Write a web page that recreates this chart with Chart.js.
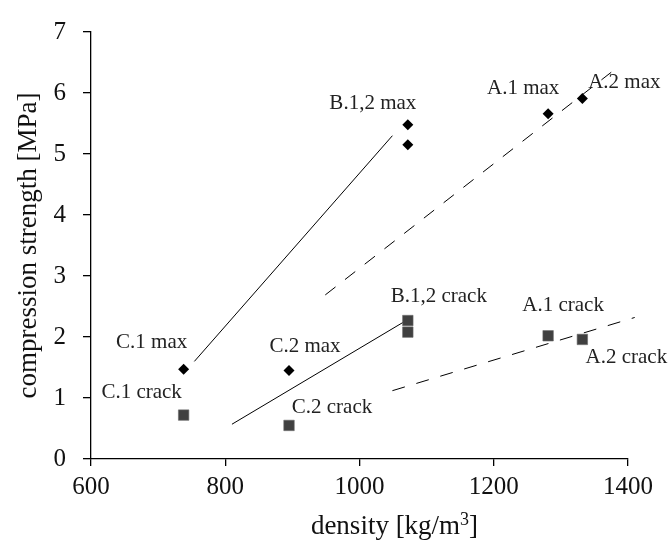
<!DOCTYPE html>
<html>
<head>
<meta charset="utf-8">
<script src="https://cdn.jsdelivr.net/npm/chart.js@4/dist/chart.umd.min.js"></script>
<style>
  html, body { margin: 0; padding: 0; background: #fff; }
  #wrap { width: 669px; height: 547px; }
</style>
</head>
<body>
<div id="wrap"><canvas id="chart" width="669" height="547"></canvas></div>
<script>
// Specimens, in order C.1, C.2, B.1, B.2, A.1, A.2
const density = [738, 895, 1072, 1072, 1281, 1332];          // kg/m3
const maxStrength = [1.47, 1.45, 5.48, 5.15, 5.66, 5.91];    // MPa
const crackStrength = [0.72, 0.55, 2.27, 2.08, 2.02, 1.96];  // MPa
const maxLabels = ['C.1 max', 'C.2 max', 'B.1,2 max', '', 'A.1 max', 'A.2 max'];
const crackLabels = ['C.1 crack', 'C.2 crack', 'B.1,2 crack', '', 'A.1 crack', 'A.2 crack'];

// Trend lines (end points): C/B groups solid, A group dashed
const trendMaxCBx = [754, 1049];
const trendMaxCBy = [1.60, 5.30];
const trendCrackCBx = [810, 1068];
const trendCrackCBy = [0.57, 2.26];
const trendMaxAx = [949, 1375];
const trendMaxAy = [2.69, 6.34];
const trendCrackAx = [1049, 1410];
const trendCrackAy = [1.12, 2.32];

// Axis ticks
const xTicks = [600, 800, 1000, 1200, 1400];
const yTicks = [0, 1, 2, 3, 4, 5, 6, 7];

// Axis titles
const xTitleMain = 'density [kg/m';
const xTitleSup = '3';
const xTitleEnd = ']';
const yTitle = 'compression strength [MPa]';

// Label placement relative to each marker (pixels)
const maxLabelOffset = [[-32, -27], [16, -24], [-35, -21], [0, 0], [-25, -25], [42, -16]];
const crackLabelOffset = [[-42, -23], [43, -18], [31, -24], [0, 0], [15, -30], [44, 18]];

const SERIF = '"Liberation Serif", "Times New Roman", serif';

const toPoints = (xs, ys) => xs.map((x, i) => ({ x: x, y: ys[i] }));

const trendStyle = (dash) => ({
  showLine: true,
  pointRadius: 0,
  pointHoverRadius: 0,
  borderColor: '#000',
  borderWidth: 1,
  borderDash: dash,
  fill: false,
  clip: false
});

// Text next to each marker
const pointLabels = {
  id: 'pointLabels',
  afterDatasetsDraw(chart) {
    const ctx = chart.ctx;
    ctx.save();
    ctx.font = '21px ' + SERIF;
    ctx.fillStyle = '#222';
    ctx.textAlign = 'center';
    ctx.textBaseline = 'middle';
    chart.data.datasets.forEach((ds, di) => {
      if (!ds.labels) return;
      const meta = chart.getDatasetMeta(di);
      meta.data.forEach((pt, i) => {
        const txt = ds.labels[i];
        if (!txt) return;
        const off = ds.labelOffsets[i];
        ctx.fillText(txt, pt.x + off[0], pt.y + off[1]);
      });
    });
    ctx.restore();
  }
};

// x-axis title with a raised exponent
const densityTitle = {
  id: 'densityTitle',
  afterDraw(chart) {
    const ctx = chart.ctx;
    const area = chart.chartArea;
    const big = '27px ' + SERIF;
    const small = '18px ' + SERIF;
    ctx.save();
    ctx.fillStyle = '#111';
    ctx.textBaseline = 'alphabetic';
    ctx.textAlign = 'left';
    ctx.font = big;
    const w1 = ctx.measureText(xTitleMain).width;
    const w3 = ctx.measureText(xTitleEnd).width;
    ctx.font = small;
    const w2 = ctx.measureText(xTitleSup).width;
    const total = w1 + w2 + w3;
    const cx = (area.left + area.right) / 2 + 35;
    const baseline = area.bottom + 75;
    let x = cx - total / 2;
    ctx.font = big;
    ctx.fillText(xTitleMain, x, baseline);
    x += w1;
    ctx.font = small;
    ctx.fillText(xTitleSup, x, baseline - 9);
    x += w2;
    ctx.font = big;
    ctx.fillText(xTitleEnd, x, baseline);
    ctx.restore();
  }
};

new Chart(document.getElementById('chart'), {
  type: 'scatter',
  data: {
    datasets: [
      {
        label: 'max',
        data: toPoints(density, maxStrength),
        labels: maxLabels,
        labelOffsets: maxLabelOffset,
        pointStyle: 'rectRot',
        pointRadius: 5.5,
        pointBackgroundColor: '#000',
        pointBorderColor: '#000',
        pointBorderWidth: 0
      },
      {
        label: 'crack',
        data: toPoints(density, crackStrength),
        labels: crackLabels,
        labelOffsets: crackLabelOffset,
        pointStyle: 'rect',
        pointRadius: 7.4,
        pointBackgroundColor: '#404040',
        pointBorderColor: '#6a6a6a',
        pointBorderWidth: 0.6
      },
      Object.assign({ label: 'max C/B', data: toPoints(trendMaxCBx, trendMaxCBy) }, trendStyle([])),
      Object.assign({ label: 'crack C/B', data: toPoints(trendCrackCBx, trendCrackCBy) }, trendStyle([])),
      Object.assign({ label: 'max A', data: toPoints(trendMaxAx, trendMaxAy) }, trendStyle([13, 12])),
      Object.assign({ label: 'crack A', data: toPoints(trendCrackAx, trendCrackAy) }, trendStyle([13, 12]))
    ]
  },
  options: {
    responsive: false,
    animation: false,
    devicePixelRatio: 1,
    layout: { padding: { top: 20, right: 41, left: 0, bottom: 0 } },
    plugins: {
      legend: { display: false },
      tooltip: { enabled: false }
    },
    scales: {
      x: {
        type: 'linear',
        min: xTicks[0],
        max: xTicks[xTicks.length - 1],
        afterBuildTicks: (s) => { s.ticks = xTicks.map(v => ({ value: v })); },
        afterFit: (s) => { s.height = 88; },
        ticks: {
          font: { family: SERIF, size: 25 },
          color: '#111',
          padding: 6,
          callback: (v) => String(v)
        },
        grid: {
          drawOnChartArea: false,
          drawTicks: true,
          tickLength: 7,
          color: '#000',
          lineWidth: 1.3
        },
        border: { display: true, color: '#000', width: 1.3 },
        title: { display: false }
      },
      y: {
        type: 'linear',
        min: yTicks[0],
        max: yTicks[yTicks.length - 1],
        afterBuildTicks: (s) => { s.ticks = yTicks.map(v => ({ value: v })); },
        afterFit: (s) => { s.width = 91; },
        ticks: {
          font: { family: SERIF, size: 25 },
          color: '#111',
          padding: 17,
          callback: (v) => String(v)
        },
        grid: {
          drawOnChartArea: false,
          drawTicks: true,
          tickLength: 8,
          color: '#000',
          lineWidth: 1.3
        },
        border: { display: true, color: '#000', width: 1.3 },
        title: {
          display: true,
          text: yTitle,
          font: { family: SERIF, size: 27 },
          color: '#111',
          padding: { top: 13, bottom: 0 }
        }
      }
    }
  },
  plugins: [pointLabels, densityTitle]
});
</script>
</body>
</html>
